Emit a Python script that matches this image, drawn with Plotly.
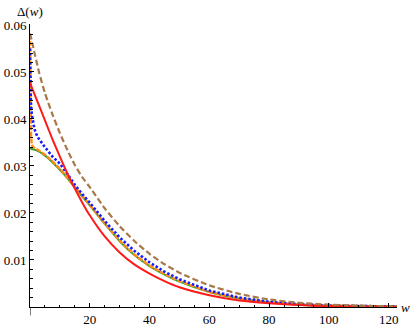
import plotly.graph_objects as go

# ---- data ----
w_red = [0, 2.5, 5, 7.5, 10, 12.5, 15, 17.5, 20, 25, 30, 35, 40, 45, 50, 60, 70, 80, 90, 100, 110, 122.8]
d_red = [0.0477, 0.0437, 0.0397, 0.0357, 0.0320, 0.0284, 0.0252, 0.0222, 0.0195, 0.0150, 0.0116, 0.0090,
         0.0071, 0.0055, 0.0042, 0.0025, 0.0014, 0.0008, 0.0004, 0.0002, 0.0001, 0.00005]

w_green = [0, 2.5, 5, 7.5, 10, 12.5, 15, 17.5, 20, 25, 30, 35, 40, 45, 50, 60, 70, 80, 90, 100, 110, 122.8]
d_green = [0.0337, 0.0332, 0.0322, 0.0308, 0.0292, 0.0274, 0.0254, 0.0235, 0.0216, 0.0177, 0.0140, 0.0110,
           0.0087, 0.0069, 0.0054, 0.0032, 0.0018, 0.0010, 0.0005, 0.0003, 0.00015, 0.0001]

w_orange = [0, 0.1, 0.2, 0.35, 0.6, 1, 2.5, 5, 7.5, 10, 12.5, 15, 17.5, 20, 25, 30, 35, 40, 45, 50, 60, 70,
            80, 90, 100, 110, 122.8]
d_orange = [0.0580, 0.0490, 0.0420, 0.0365, 0.0345, 0.0340, 0.0335, 0.0324, 0.0310, 0.0294, 0.0275, 0.0255,
            0.0236, 0.0217, 0.0178, 0.0141, 0.0111, 0.0088, 0.0070, 0.0055, 0.0032, 0.0018, 0.0010, 0.0005,
            0.0003, 0.00015, 0.0001]

w_blue = [0, 0.15, 0.3, 0.6, 1, 1.5, 2.5, 4, 5, 7.5, 10, 12.5, 15, 17.5, 20, 25, 30, 35, 40, 45, 50, 60, 70,
          80, 90, 100, 110, 122.8]
d_blue = [0.0550, 0.0470, 0.0435, 0.0410, 0.0392, 0.0378, 0.0362, 0.0348, 0.0340, 0.0320, 0.0305, 0.0283,
          0.0260, 0.0240, 0.0222, 0.0183, 0.0148, 0.0119, 0.0095, 0.0075, 0.0059, 0.0035, 0.0020, 0.0011,
          0.0006, 0.0003, 0.00015, 0.0001]

w_brown = [0, 1, 3, 5, 7.5, 10, 12.5, 15, 17.5, 20, 25, 30, 35, 40, 45, 50, 60, 70, 80, 90, 100,
           110, 122.8]
d_brown = [0.0582, 0.0555, 0.0500, 0.0455, 0.0410, 0.0370, 0.0334, 0.0302, 0.0276, 0.0255, 0.0210,
           0.0172, 0.0140, 0.0113, 0.0091, 0.0073, 0.0046, 0.0028, 0.0016, 0.0009, 0.0005, 0.0003,
           0.0001]

x_ticks = [20, 40, 60, 80, 100, 120]
y_ticks = [0.01, 0.02, 0.03, 0.04, 0.05, 0.06]
y_tick_text = ["0.01", "0.02", "0.03", "0.04", "0.05", "0.06"]

fig = go.Figure()
fig.add_trace(go.Scatter(x=w_green, y=d_green, mode="lines",
                         line=dict(color="#2ca02c", width=2, shape="spline", smoothing=0.6)))
fig.add_trace(go.Scatter(x=w_orange, y=d_orange, mode="lines",
                         line=dict(color="#ff8c1a", width=2.4, dash="5px,1.5px")))
fig.add_trace(go.Scatter(x=w_blue, y=d_blue, mode="lines",
                         line=dict(color="#1a1aff", width=2.6, dash="2.5px,2px")))
fig.add_trace(go.Scatter(x=w_red, y=d_red, mode="lines",
                         line=dict(color="#ff1a1a", width=2, shape="spline", smoothing=0.6)))
fig.add_trace(go.Scatter(x=w_brown, y=d_brown, mode="lines",
                         line=dict(color="#a87848", width=2.2, dash="6px,3px", shape="spline",
                                   smoothing=0.6)))

font = dict(family="Liberation Serif, DejaVu Serif, serif", size=13, color="black")
fig.update_layout(
    width=415, height=328,
    margin=dict(l=30, r=18, t=24, b=21, pad=0),
    paper_bgcolor="white", plot_bgcolor="white",
    showlegend=False,
    font=font,
    xaxis=dict(range=[0, 122.8], showgrid=False, zeroline=False, showline=True, linecolor="black",
               linewidth=1, ticks="inside", ticklen=4, tickcolor="black", tickvals=x_ticks,
               automargin=False,
               minor=dict(dtick=5, tick0=0, ticks="inside", ticklen=2.5, tickcolor="black"),
               tickfont=font),
    yaxis=dict(range=[0, 0.0602], showgrid=False, zeroline=False, showline=True, linecolor="black",
               linewidth=1, ticks="inside", ticklen=4, tickcolor="black", tickvals=y_ticks,
               ticktext=y_tick_text, automargin=False,
               minor=dict(dtick=0.002, tick0=0, ticks="inside", ticklen=2.5, tickcolor="black"),
               tickfont=font),
    shapes=[dict(type="line", xref="x", yref="paper", x0=0, x1=0, y0=0, y1=-0.03,
                 line=dict(color="black", width=1))],
    annotations=[
        dict(text="Δ(<i>w</i>)", x=0, y=1, xref="paper", yref="paper", xanchor="center", yanchor="bottom",
             yshift=3, showarrow=False, font=font),
        dict(text="<i>w</i>", x=1, y=0, xref="paper", yref="paper", xanchor="left", yanchor="middle",
             xshift=2, showarrow=False, font=font),
    ],
)
fig.write_html("out.html", config={"displayModeBar": False},
               post_script="document.body.style.margin='0px';")
